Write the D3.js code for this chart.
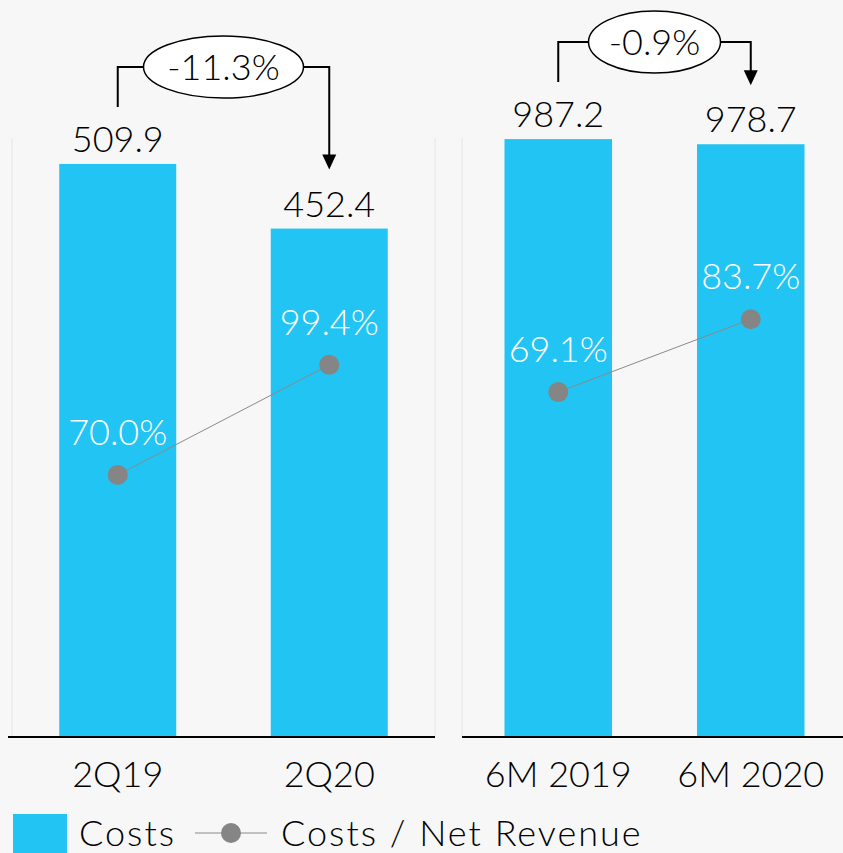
<!DOCTYPE html>
<html>
<head>
<meta charset="utf-8">
<script src="https://cdn.jsdelivr.net/npm/d3@7"></script>
<style>
  html, body { margin: 0; padding: 0; background: #f7f7f7; }
  svg { display: block; }
  text { font-family: Lato, 'Open Sans', sans-serif; font-weight: 300; }
</style>
</head>
<body>
<script>
// data
var categoriesQ = ['2Q19', '2Q20'];
var costsQ = [509.9, 452.4];
var ratioQ = [70.0, 99.4];
var changeQ = '-11.3%';

var categories6M = ['6M 2019', '6M 2020'];
var costs6M = [987.2, 978.7];
var ratio6M = [69.1, 83.7];
var change6M = '-0.9%';

var legendLabels = ['Costs', 'Costs / Net Revenue'];

// chart
var width = 843, height = 853;
var baseline = 737, top_y = 138;
var bar_color = '#22c4f3';
var dot_color = '#858585';
var font_size = 36;

var svg = d3.select('body')
	.append('svg')
	.attr('width', width)
	.attr('height', height);

svg.append('rect')
	.attr('width', width)
	.attr('height', height)
	.attr('fill', '#f7f7f7');

function draw_panel (cats, costs, ratios, change, opts) {
	var data = cats.map(function (c, i) {
		return { cat: c, cost: costs[i], ratio: ratios[i] };
	});

	var x = d3.scaleBand()
		.domain(cats)
		.range(opts.xrange)
		.paddingInner(opts.pad)
		.paddingOuter(opts.pad / 2);
	var y = d3.scaleLinear().domain([0, opts.ymax]).range([baseline, top_y]);
	var y2 = d3.scaleLinear().domain([0, opts.rmax]).range([baseline, top_y]);

	var g = svg.append('g');
	var cx = function (d) { return x(d.cat) + x.bandwidth() / 2; };

	// faint panel edges
	g.selectAll('line.edge')
		.data(opts.edges)
		.enter().append('line')
		.attr('x1', function (d) { return d; })
		.attr('x2', function (d) { return d; })
		.attr('y1', top_y)
		.attr('y2', baseline)
		.attr('stroke', '#ebebeb')
		.attr('stroke-width', 1.5);

	// bars
	g.selectAll('rect.bar')
		.data(data)
		.enter().append('rect')
		.attr('class', 'bar')
		.attr('x', function (d) { return x(d.cat); })
		.attr('y', function (d) { return y(d.cost); })
		.attr('width', x.bandwidth())
		.attr('height', function (d) { return baseline - y(d.cost); })
		.attr('fill', bar_color);

	// axis
	var x_axis = d3.axisBottom(x).tickSize(0).tickPadding(32);
	var ax = g.append('g')
		.attr('transform', 'translate(0,' + baseline + ')')
		.call(x_axis);
	ax.select('.domain')
		.attr('d', 'M' + opts.axis[0] + ',0H' + opts.axis[1])
		.attr('stroke', '#000')
		.attr('stroke-width', 2);
	ax.selectAll('text')
		.attr('font-size', font_size)
		.attr('font-family', 'Lato, sans-serif')
		.attr('fill', '#000')
		.attr('dy', '0.71em')
		.attr('y', 24);

	// value labels
	g.selectAll('text.val')
		.data(data)
		.enter().append('text')
		.attr('x', cx)
		.attr('y', function (d) { return y(d.cost) - 12; })
		.attr('text-anchor', 'middle')
		.attr('font-size', font_size)
		.attr('fill', '#000')
		.text(function (d) { return d.cost.toFixed(1); });

	// ratio line
	var line = d3.line()
		.x(cx)
		.y(function (d) { return y2(d.ratio); });
	g.append('path')
		.datum(data)
		.attr('d', line)
		.attr('fill', 'none')
		.attr('stroke', '#8a8a8a')
		.attr('stroke-width', 1);
	g.selectAll('circle.dot')
		.data(data)
		.enter().append('circle')
		.attr('cx', cx)
		.attr('cy', function (d) { return y2(d.ratio); })
		.attr('r', 10)
		.attr('fill', dot_color);
	g.selectAll('text.pct')
		.data(data)
		.enter().append('text')
		.attr('x', cx)
		.attr('y', function (d) { return y2(d.ratio) - 30; })
		.attr('text-anchor', 'middle')
		.attr('font-size', font_size)
		.attr('fill', '#fff')
		.text(function (d) { return d.ratio.toFixed(1) + '%'; });

	// change annotation
	var x0 = cx(data[0]), x1 = cx(data[1]);
	var ytop = Math.min(y(data[0].cost), y(data[1].cost)) - 97;
	var ystart = y(data[0].cost) - 57;
	var yend = y(data[1].cost) - 59;
	var mid = (x0 + x1) / 2;

	g.append('path')
		.attr('d', 'M' + x0 + ',' + ystart + 'V' + ytop + 'H' + x1 + 'V' + (yend - 14))
		.attr('fill', 'none')
		.attr('stroke', '#000')
		.attr('stroke-width', 2);
	g.append('path')
		.attr('d', 'M' + (x1 - 7) + ',' + (yend - 15) + 'L' + (x1 + 7) + ',' + (yend - 15) + 'L' + x1 + ',' + yend + 'Z')
		.attr('fill', '#000');
	g.append('ellipse')
		.attr('cx', mid)
		.attr('cy', ytop)
		.attr('rx', opts.rx)
		.attr('ry', 31)
		.attr('fill', '#fff')
		.attr('stroke', '#000')
		.attr('stroke-width', 1.5);
	g.append('text')
		.attr('x', mid)
		.attr('y', ytop + 13)
		.attr('text-anchor', 'middle')
		.attr('font-size', font_size)
		.attr('fill', '#000')
		.text(change);
}

draw_panel(categoriesQ, costsQ, ratioQ, changeQ, {
	xrange: [12, 435], pad: 0.447, ymax: 533, rmax: 160,
	edges: [12, 435], axis: [8, 435], rx: 80
});
draw_panel(categories6M, costs6M, ratio6M, change6M, {
	xrange: [462, 847], pad: 0.4416, ymax: 989, rmax: 120,
	edges: [462], axis: [462, 843], rx: 66
});

// legend
var legend = svg.append('g');
legend.append('rect')
	.attr('x', 13).attr('y', 814)
	.attr('width', 54).attr('height', 40)
	.attr('fill', bar_color);
legend.append('text')
	.attr('x', 79).attr('y', 846)
	.attr('font-size', font_size)
	.attr('letter-spacing', 2)
	.attr('fill', '#000')
	.text(legendLabels[0]);
legend.append('line')
	.attr('x1', 195).attr('x2', 267)
	.attr('y1', 833).attr('y2', 833)
	.attr('stroke', '#8a8a8a')
	.attr('stroke-width', 1);
legend.append('circle')
	.attr('cx', 231).attr('cy', 833).attr('r', 10)
	.attr('fill', dot_color);
legend.append('text')
	.attr('x', 281).attr('y', 846)
	.attr('font-size', font_size)
	.attr('letter-spacing', 2)
	.attr('fill', '#000')
	.text(legendLabels[1]);
</script>
</body>
</html>
